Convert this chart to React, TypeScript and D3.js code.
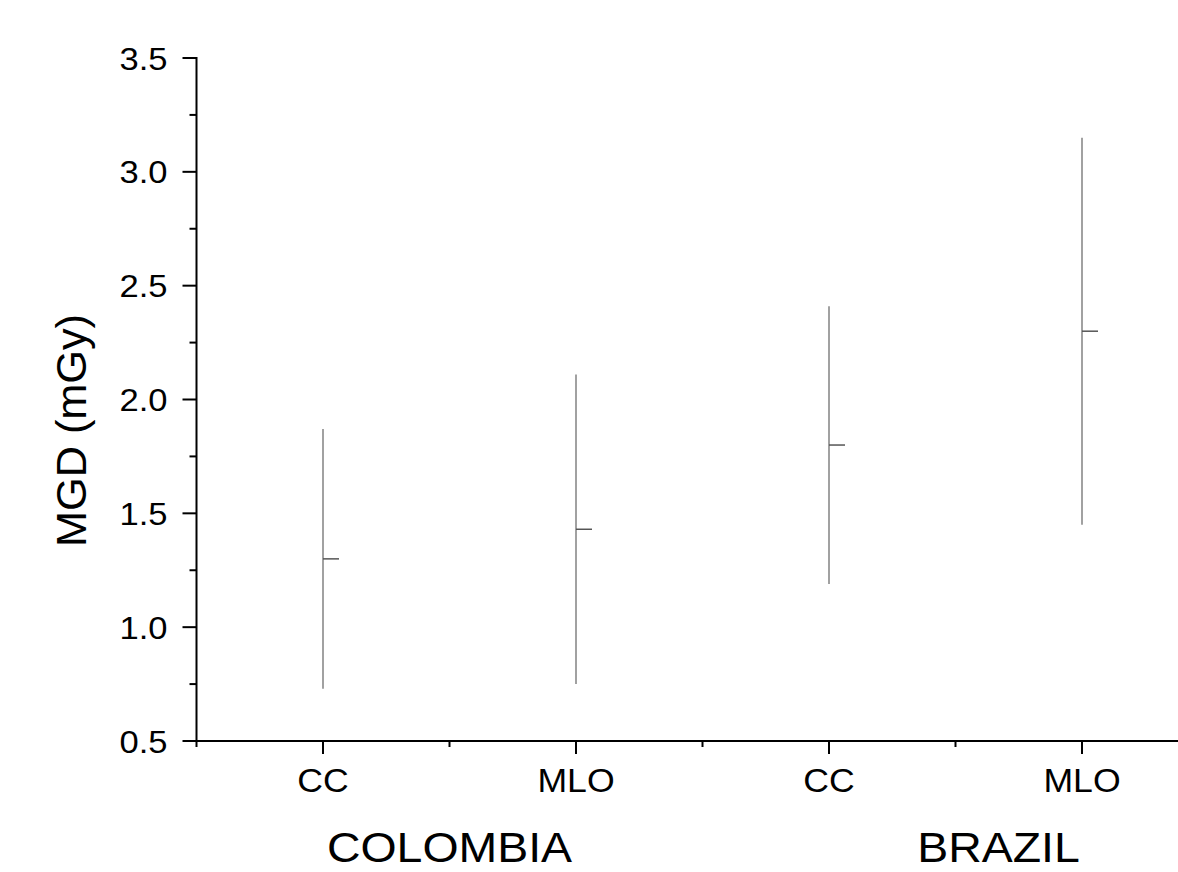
import React from 'react'
import * as d3 from 'd3'

// groups and projections
const groups = ['COLOMBIA', 'BRAZIL']
const views = ['CC', 'MLO']
const means = [1.3, 1.43, 1.8, 2.3]
const highs = [1.87, 2.11, 2.41, 3.15]
const lows = [0.73, 0.75, 1.19, 1.45]
const yTicks = [0.5, 1.0, 1.5, 2.0, 2.5, 3.0, 3.5]

const W = 1178
const H = 872
const FONT = '"Liberation Sans", Arial, sans-serif'
const STRETCH = 1.08 // the original glyphs are a touch wider than Arial

const keys = groups.flatMap(g => views.map(v => g + '-' + v))

function Label({ x, y, size, anchor = 'middle', dy, children }: any) {
  return (
    <text transform={`translate(${x},${y}) scale(${STRETCH},1)`} dy={dy} textAnchor={anchor} fontSize={size}>
      {children}
    </text>
  )
}

export default function App() {
  const x = d3.scalePoint<string>()
    .domain(keys)
    .range([196.5, 196.5 + 253 * keys.length])
    .padding(0.5)

  const y = d3.scaleLinear().domain([0.5, 3.5]).range([741, 58])

  const step = x.step()
  const left = x.range()[0]
  const bottom = y.range()[0]

  // minor ticks: halfway between labels on x, halfway between majors on y
  const xMinor = d3.range(keys.length + 1).map(i => left + i * step)
  const yMinor = d3.range(0.75, 3.5, 0.5)

  // group label nudges (the original labels sit off-centre)
  const groupDx = [0, 43]

  return (
    <svg width={W} height={H} style={{ position: 'absolute', left: 0, top: 0, background: '#fff' }} fontFamily={FONT}>
      {/* error bars */}
      {keys.map((k, i) => (
        <g key={k}>
          <line x1={x(k)} x2={x(k)} y1={y(highs[i])} y2={y(lows[i])} stroke="#8a8a8a" strokeWidth={1.6} />
          <line x1={x(k)} x2={x(k)! + 16} y1={y(means[i])} y2={y(means[i])} stroke="#555" strokeWidth={1.5} />
        </g>
      ))}

      {/* y axis */}
      <line x1={left} x2={left} y1={y(3.5) - 1} y2={bottom + 1} stroke="#000" strokeWidth={2} />
      {yTicks.map(t => (
        <g key={t}>
          <line x1={left - 14} x2={left} y1={y(t)} y2={y(t)} stroke="#000" strokeWidth={2} />
          <Label x={left - 29} y={y(t)} dy="0.36em" anchor="end" size={32}>{t.toFixed(1)}</Label>
        </g>
      ))}
      {yMinor.map(t => (
        <line key={t} x1={left - 7} x2={left} y1={y(t)} y2={y(t)} stroke="#000" strokeWidth={2} />
      ))}
      <text transform={`translate(86,${y(2.0) + 31}) rotate(-90) scale(1.03,1)`} textAnchor="middle" fontSize={42}>MGD (mGy)</text>

      {/* x axis */}
      <line x1={left - 1} x2={W} y1={bottom} y2={bottom} stroke="#000" strokeWidth={2} />
      {xMinor.map(v => (
        <line key={v} x1={v} x2={v} y1={bottom} y2={bottom + 6} stroke="#000" strokeWidth={2} />
      ))}
      {keys.map(k => (
        <g key={k}>
          <line x1={x(k)} x2={x(k)} y1={bottom} y2={bottom + 13} stroke="#000" strokeWidth={2} />
          <Label x={x(k)} y={792} size={33}>{k.split('-')[1]}</Label>
        </g>
      ))}
      {groups.map((g, i) => {
        const cx = (x(g + '-' + views[0])! + x(g + '-' + views[views.length - 1])!) / 2
        return (
          <Label key={g} x={cx + groupDx[i]} y={862} size={43}>{g}</Label>
        )
      })}
    </svg>
  )
}
